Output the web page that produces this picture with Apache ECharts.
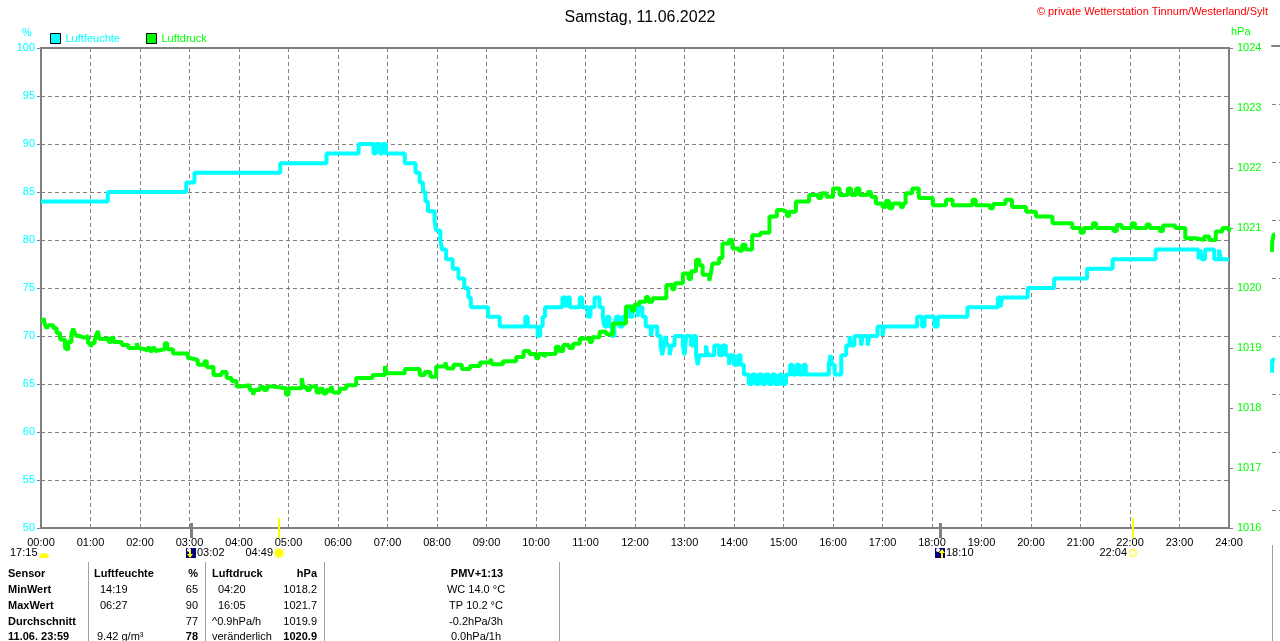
<!DOCTYPE html>
<html><head><meta charset="utf-8">
<script src="https://cdn.jsdelivr.net/npm/echarts@6/dist/echarts.min.js"></script>
<style>html,body{margin:0;padding:0;background:#fff}#c{width:1280px;height:641px}</style>
</head><body><div id="c"></div>
<script>
const FONT = "'Liberation Sans', Arial, sans-serif";
const titleText = 'Samstag, 11.06.2022';
const copyrightText = '\u00a9 private Wetterstation Tinnum/Westerland/Sylt';
const humidityName = 'Luftfeuchte';
const pressureName = 'Luftdruck';
const humidityUnit = '%';
const pressureUnit = 'hPa';

// [minute of day, value] change points (step line)
const humidityReadings = [[0,84],[81,85],[176,86],[186,87],[290,88],[346,89],[385,90],[403,89],[406,90],[411,89],[414,90],[418,89],[441,88],[454,87],[459,86],[463,85],[466,84],[469,83],[477,82],[479,81],[484,80],[486,79],[491,78],[499,77],[506,76],[513,75],[518,74],[521,73],[542,72],[556,71],[587,72],[590,71],[602,70],[605,71],[608,72],[611,73],[632,74],[636,73],[638,74],[641,73],[653,74],[656,73],[663,72],[666,73],[671,74],[677,73],[681,72],[683,71],[686,72],[689,71],[692,70],[695,71],[697,72],[701,71],[705,72],[709,73],[713,72],[717,73],[723,72],[725,73],[729,72],[733,71],[739,70],[741,71],[747,70],[751,69],[753,68],[755,69],[757,70],[759,69],[762,68],[764,69],[768,70],[778,69],[780,68],[782,70],[788,69],[791,70],[794,68],[796,67],[798,68],[806,69],[808,68],[816,69],[822,68],[826,69],[830,68],[834,67],[836,68],[840,67],[845,68],[848,67],[852,66],[858,65],[862,66],[866,65],[870,66],[874,65],[878,66],[882,65],[886,66],[890,65],[895,66],[898,65],[903,66],[908,67],[911,66],[916,67],[919,66],[924,67],[927,66],[955,67],[957,68],[959,67],[962,66],[970,68],[976,69],[980,70],[982,69],[986,70],[994,69],[996,70],[1002,69],[1004,70],[1014,71],[1020,70],[1022,71],[1062,72],[1068,71],[1071,72],[1083,71],[1087,72],[1123,73],[1160,74],[1163,73],[1165,74],[1196,75],[1228,76],[1268,77],[1299,78],[1351,79],[1403,78],[1405,79],[1407,78],[1411,79],[1422,78],[1428,79],[1430,78],[1440,78]];

const pressureReadings = [[0,1019.45],[3,1019.5],[5,1019.38],[7,1019.33],[9,1019.38],[15,1019.33],[19,1019.25],[23,1019.14],[29,1019.0],[31,1018.97],[33,1019.1],[37,1019.25],[39,1019.32],[41,1019.25],[43,1019.2],[47,1019.17],[53,1019.2],[57,1019.08],[60,1019.02],[62,1019.08],[65,1019.12],[67,1019.22],[69,1019.28],[71,1019.15],[79,1019.17],[82,1019.1],[85,1019.17],[88,1019.1],[98,1019.05],[106,1019.0],[116,1019.08],[118,1019.0],[120,1018.98],[126,1018.95],[129,1019.0],[132,1018.95],[135,1019.0],[138,1018.95],[140,1018.98],[150,1019.08],[153,1018.98],[160,1018.91],[178,1018.83],[182,1018.8],[190,1018.72],[198,1018.78],[201,1018.68],[205,1018.69],[209,1018.55],[219,1018.6],[225,1018.5],[231,1018.45],[237,1018.36],[241,1018.38],[253,1018.3],[257,1018.22],[259,1018.3],[265,1018.35],[270,1018.3],[274,1018.36],[281,1018.33],[297,1018.22],[300,1018.33],[316,1018.5],[318,1018.35],[322,1018.3],[326,1018.36],[334,1018.26],[338,1018.32],[342,1018.24],[346,1018.3],[350,1018.26],[352,1018.36],[354,1018.26],[362,1018.32],[370,1018.38],[382,1018.5],[402,1018.55],[417,1018.7],[419,1018.58],[441,1018.65],[459,1018.55],[465,1018.6],[472,1018.52],[479,1018.69],[490,1018.76],[492,1018.66],[500,1018.72],[510,1018.65],[520,1018.7],[532,1018.76],[545,1018.82],[547,1018.73],[560,1018.78],[576,1018.85],[585,1018.95],[592,1018.9],[600,1018.83],[603,1018.9],[610,1018.85],[612,1018.9],[624,1019.02],[628,1018.95],[633,1019.05],[640,1019.0],[645,1019.07],[653,1019.16],[665,1019.1],[668,1019.18],[677,1019.27],[685,1019.23],[693,1019.41],[709,1019.69],[716,1019.62],[719,1019.72],[725,1019.77],[733,1019.85],[736,1019.77],[741,1019.83],[758,1020.05],[765,1019.98],[768,1020.08],[778,1020.24],[785,1020.15],[788,1020.28],[794,1020.47],[798,1020.38],[802,1020.22],[810,1020.12],[812,1020.25],[814,1020.41],[822,1020.5],[826,1020.74],[834,1020.8],[838,1020.66],[846,1020.62],[850,1020.72],[854,1020.64],[862,1020.88],[872,1020.92],[883,1021.19],[892,1021.3],[899,1021.27],[904,1021.2],[907,1021.27],[915,1021.44],[931,1021.55],[942,1021.5],[946,1021.58],[952,1021.52],[960,1021.66],[968,1021.55],[978,1021.66],[982,1021.55],[988,1021.66],[992,1021.55],[1002,1021.6],[1006,1021.52],[1012,1021.41],[1020,1021.35],[1024,1021.45],[1028,1021.33],[1032,1021.41],[1042,1021.35],[1045,1021.41],[1048,1021.58],[1056,1021.66],[1064,1021.5],[1081,1021.38],[1097,1021.47],[1105,1021.38],[1129,1021.47],[1133,1021.38],[1150,1021.33],[1154,1021.4],[1169,1021.47],[1177,1021.35],[1194,1021.27],[1206,1021.19],[1226,1021.08],[1250,1021.0],[1260,1020.92],[1264,1021.0],[1275,1021.08],[1279,1021.0],[1300,1020.95],[1304,1021.05],[1310,1021.0],[1322,1021.08],[1326,1021.0],[1340,1021.06],[1344,1021.0],[1356,1020.95],[1360,1021.04],[1375,1021.0],[1387,1020.83],[1400,1020.8],[1410,1020.86],[1416,1020.8],[1424,1020.94],[1432,1021.0],[1440,1020.94]];

// fragment of the next day's chart at the right edge
const nextDayPressure = [[0,1020.45],[1,1020.62],[8,1020.75],[14,1020.75]];
const nextDayHumidity = [[0,64.8],[1,66.2],[14,66.2]];

const dayLength = '17:15';
const astroEvents = [
  {time:'03:02', type:'moonset'},
  {time:'04:49', type:'sunrise'},
  {time:'18:10', type:'moonrise'},
  {time:'22:04', type:'sunset'}
];

const tableHeader = ['Sensor','Luftfeuchte','%','Luftdruck','hPa','PMV+1:13'];
const rowLabels = ['MinWert','MaxWert','Durchschnitt','11.06. 23:59'];
const humTimes = ['14:19','06:27','','9.42 g/m\u00b3'];
const humValues = ['65','90','77','78'];
const presTimes = ['04:20','16:05','^0.9hPa/h','ver\u00e4nderlich'];
const presValues = ['1018.2','1021.7','1019.9','1020.9'];
const pmvTexts = ['WC 14.0 \u00b0C','TP 10.2 \u00b0C','-0.2hPa/3h','0.0hPa/1h'];

const CYAN = '#00ffff', GREEN = '#00ff00', GREY = '#808080';
const dash = {type:[4,3], color:GREY, width:1};
const pad2 = n => String(n).padStart(2,'0');
const toMin = s => { const p = s.split(':'); return (+p[0])*60 + (+p[1]); };

const chart = echarts.init(document.getElementById('c'));
chart.setOption({
  animation:false,
  textStyle:{fontFamily:FONT},
  title:{text:titleText, left:'center', top:5, textStyle:{fontSize:16, fontWeight:'normal', color:'#000', fontFamily:FONT}},
  legend:{left:50, top:33, itemWidth:10, itemHeight:10, itemGap:26, padding:0, icon:'rect',
    itemStyle:{borderColor:'#000', borderWidth:1},
    textStyle:{fontSize:11, fontFamily:FONT},
    data:[{name:humidityName, textStyle:{color:CYAN}},{name:pressureName, textStyle:{color:GREEN}}]},
  grid:[
    {left:41, right:51, top:48, bottom:113, show:true, borderColor:GREY, borderWidth:2},
    {left:1272, top:46, width:1188, height:464}
  ],
  xAxis:[
    {type:'value', min:0, max:1440, interval:60,
     axisLine:{lineStyle:{color:GREY, width:2}}, axisTick:{show:false},
     axisLabel:{color:'#000', fontSize:11, fontFamily:FONT, margin:9, showMinLabel:true, showMaxLabel:true,
       formatter:v => pad2(Math.round(v/60)) + ':00'},
     splitLine:{show:true, lineStyle:dash}},
    {gridIndex:1, type:'value', min:0, max:1440, position:'top',
     axisLine:{show:true, lineStyle:{color:GREY, width:2}}, axisTick:{show:false}, axisLabel:{show:false}, splitLine:{show:false}}
  ],
  yAxis:[
    {type:'value', min:50, max:100, interval:5, position:'left',
     axisLine:{show:true, lineStyle:{color:GREY, width:2}},
     axisTick:{show:true, length:4, lineStyle:{color:GREY}},
     axisLabel:{color:CYAN, fontSize:11, fontFamily:FONT, margin:6, formatter:v => String(v)},
     splitLine:{show:true, lineStyle:dash}},
    {type:'value', min:1016, max:1024, interval:1, position:'right',
     axisLine:{show:true, lineStyle:{color:GREY, width:2}},
     axisTick:{show:true, length:4, lineStyle:{color:GREY}},
     axisLabel:{color:GREEN, fontSize:11, fontFamily:FONT, margin:8, formatter:v => String(v)},
     splitLine:{show:false}},
    {gridIndex:1, type:'value', min:1016, max:1024, interval:1,
     axisLine:{show:false}, axisTick:{show:false}, axisLabel:{show:false}, splitLine:{show:true, lineStyle:dash}},
    {gridIndex:1, type:'value', min:50, max:100, interval:5,
     axisLine:{show:false}, axisTick:{show:false}, axisLabel:{show:false}, splitLine:{show:false}}
  ],
  series:[
    {name:humidityName, type:'line', xAxisIndex:0, yAxisIndex:0, step:'end', symbol:'none', data:humidityReadings,
     lineStyle:{color:CYAN, width:4, cap:'butt', join:'bevel'}, itemStyle:{color:CYAN}, z:3},
    {name:pressureName, type:'line', xAxisIndex:0, yAxisIndex:1, step:'end', symbol:'none', data:pressureReadings,
     lineStyle:{color:GREEN, width:4, cap:'butt', join:'bevel'}, itemStyle:{color:GREEN}, z:4},
    {name:'nextP', type:'line', xAxisIndex:1, yAxisIndex:2, step:'end', symbol:'none', data:nextDayPressure,
     lineStyle:{color:GREEN, width:4, join:'bevel'}, itemStyle:{color:GREEN}},
    {name:'nextH', type:'line', xAxisIndex:1, yAxisIndex:3, step:'end', symbol:'none', data:nextDayHumidity,
     lineStyle:{color:CYAN, width:4, join:'bevel'}, itemStyle:{color:CYAN}}
  ]
});

function txt(x, y, text, opt) {
  opt = opt || {};
  const f = (opt.bold ? 'bold ' : '') + (opt.size || 11) + 'px ' + FONT;
  return {type:'text', x:x, y:y, silent:true, z:100,
    style:{text:text, fill:opt.color || '#000', font:f,
      align:opt.align || 'left', verticalAlign:'middle',
      textAlign:opt.align || 'left', textVerticalAlign:'middle'}};
}
const g = [];
g.push(txt(27, 33, humidityUnit, {color:CYAN, align:'center'}));
g.push(txt(1231, 32, pressureUnit, {color:GREEN}));
g.push(txt(1268, 12, copyrightText, {color:'#ff0000', align:'right'}));

// astronomical markers
const MY = 553;
g.push(txt(10, MY, dayLength));
g.push({type:'sector', z:100, shape:{cx:44, cy:558, r0:0, r:5, startAngle:Math.PI, endAngle:2*Math.PI}, style:{fill:'#ffff00'}});
astroEvents.forEach(ev => {
  const x = Math.round(chart.convertToPixel({xAxisIndex:0}, toMin(ev.time)));
  const isSun = ev.type === 'sunrise' || ev.type === 'sunset';
  if (isSun) {
    g.push({type:'rect', z:100, shape:{x:x-1, y:518, width:2, height:20}, style:{fill:'#ffff00'}});
    g.push(txt(x-6, MY, ev.time, {align:'right'}));
    if (ev.type === 'sunrise') {
      g.push({type:'circle', z:100, shape:{cx:x, cy:MY, r:6}, style:{fill:'#ffffc0'}});
      g.push({type:'circle', z:101, shape:{cx:x, cy:MY, r:4}, style:{fill:'#ffff00'}});
    } else {
      g.push({type:'rect', z:100, shape:{x:x-3, y:MY-3, width:6, height:6}, style:{fill:'none', stroke:'#ffff00', lineWidth:1}});
    }
  } else {
    g.push({type:'rect', z:100, shape:{x:x-1, y:523, width:3, height:15}, style:{fill:GREY}});
    g.push({type:'rect', z:100, shape:{x:x-5, y:MY-5, width:10, height:10}, style:{fill:'#000080'}});
    g.push({type:'circle', z:101, shape:{cx:x-2, cy:MY-3, r:2}, style:{fill:'#ffffff'}});
    if (ev.type === 'moonset') {
      g.push({type:'polygon', z:101, shape:{points:[[x-2,MY-3],[x,MY-3],[x,MY+1],[x+2,MY+1],[x-1,MY+5],[x-4,MY+1],[x-2,MY+1]]}, style:{fill:'#ffff00'}});
    } else {
      g.push({type:'polygon', z:101, shape:{points:[[x+1,MY+5],[x+3,MY+5],[x+3,MY],[x+5,MY],[x+2,MY-4],[x-1,MY],[x+1,MY]]}, style:{fill:'#ffff00'}});
    }
    g.push(txt(x+6, MY, ev.time));
  }
});

// summary table
const rowY = [574, 590, 606, 622, 637];
[88, 205, 324, 559, 1272].forEach(x => {
  g.push({type:'line', z:100, shape:{x1:x+0.5, y1:x === 1272 ? 545 : 562, x2:x+0.5, y2:641}, style:{stroke:'#a0a0a0', lineWidth:1}});
});
g.push(txt(8, rowY[0], tableHeader[0], {bold:true}));
g.push(txt(94, rowY[0], tableHeader[1], {bold:true}));
g.push(txt(198, rowY[0], tableHeader[2], {bold:true, align:'right'}));
g.push(txt(212, rowY[0], tableHeader[3], {bold:true}));
g.push(txt(317, rowY[0], tableHeader[4], {bold:true, align:'right'}));
g.push(txt(477, rowY[0], tableHeader[5], {bold:true, align:'center'}));
for (let i = 0; i < 4; i++) {
  const y = rowY[i+1];
  const last = i === 3;
  g.push(txt(8, y, rowLabels[i], {bold:true}));
  g.push(txt(i === 3 ? 97 : 100, y, humTimes[i]));
  g.push(txt(198, y, humValues[i], {bold:last, align:'right'}));
  g.push(txt(i >= 2 ? 212 : 218, y, presTimes[i]));
  g.push(txt(317, y, presValues[i], {bold:last, align:'right'}));
  g.push(txt(476, y, pmvTexts[i], {align:'center'}));
}
chart.setOption({graphic:g});
</script>
</body></html>
